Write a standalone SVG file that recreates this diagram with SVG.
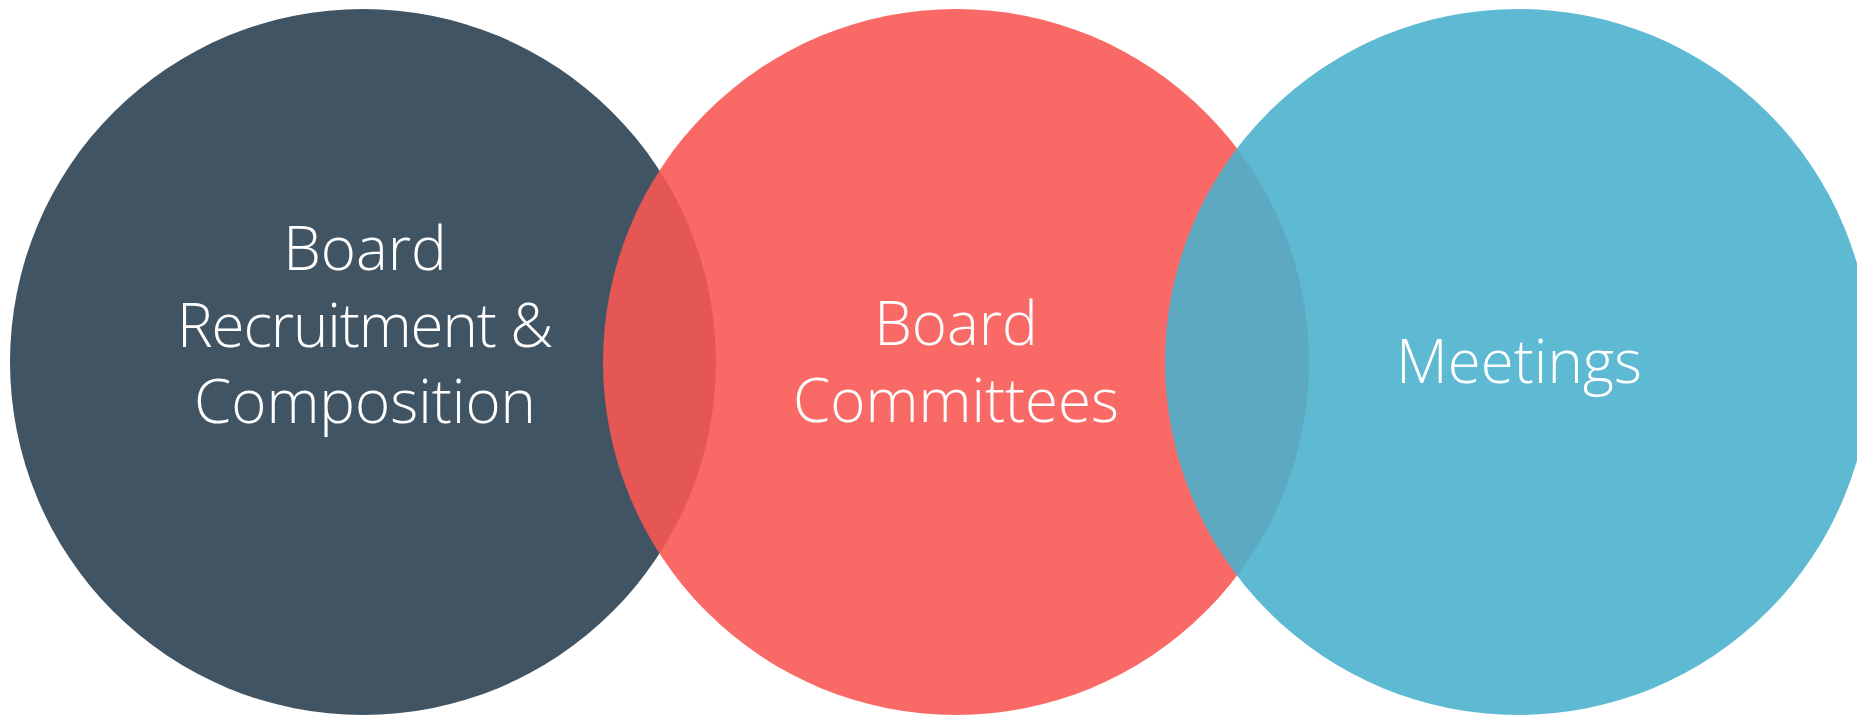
<svg xmlns="http://www.w3.org/2000/svg" width="1857" height="716" viewBox="0 0 1857 716">
  <style>
    .label { font-family: "Open Sans", "Liberation Sans", sans-serif; font-weight: 300; font-size: 60px; fill: #ffffff; text-anchor: middle; }
  </style>
  <rect width="1857" height="716" fill="#ffffff"/>
  <g id="node-recruitment">
    <circle cx="363" cy="362" r="353" fill="#415464"/>
    <text class="label" x="365" y="270">Board</text>
    <text class="label" x="365" y="347" textLength="376" lengthAdjust="spacing">Recruitment &amp;</text>
    <text class="label" x="365" y="423">Composition</text>
  </g>
  <g id="node-committees">
    <circle cx="956" cy="362" r="353" fill="#f85853" fill-opacity="0.89"/>
    <text class="label" x="956" y="345">Board</text>
    <text class="label" x="956" y="422">Committees</text>
  </g>
  <g id="node-meetings">
    <circle cx="1518" cy="362" r="353" fill="#4ab0ce" fill-opacity="0.89"/>
    <text class="label" x="1519" y="383">Meetings</text>
  </g>
  <g id="connectors"/>
</svg>
